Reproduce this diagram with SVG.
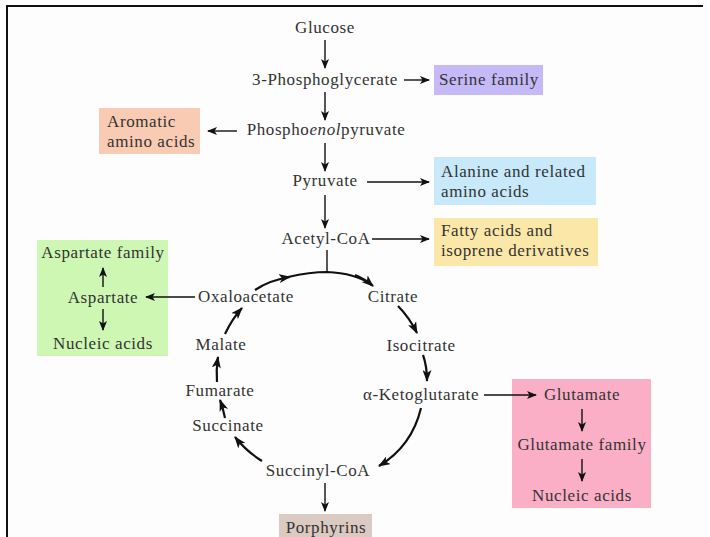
<svg xmlns="http://www.w3.org/2000/svg" width="710" height="537" viewBox="0 0 710 537">
  <defs>
    <marker id="ah" viewBox="0 0 10 8" refX="9" refY="4" markerWidth="10" markerHeight="8" markerUnits="userSpaceOnUse" orient="auto">
      <path d="M0,0 L10,4 L0,8 L2.5,4 Z" fill="#111"/>
    </marker>
    <marker id="ahc" viewBox="0 0 12 9" refX="11" refY="4.5" markerWidth="12" markerHeight="9" markerUnits="userSpaceOnUse" orient="auto">
      <path d="M0,0 L12,4.5 L0,9 L3,4.5 Z" fill="#111"/>
    </marker>
  </defs>
  <style>
    text { font-family: "Liberation Serif", "Times New Roman", serif; font-size: 17px; letter-spacing: 0.6px; fill: #333; }
    .c { text-anchor: middle; }
    .ln { stroke: #111; stroke-width: 1.4; fill: none; }
    .cy { stroke: #111; stroke-width: 2.2; fill: none; }
    .a { marker-end: url(#ah); }
    .ac { marker-end: url(#ahc); }
  </style>

  <!-- page -->
  <rect x="0" y="0" width="710" height="537" fill="#ffffff"/>
  <rect x="7" y="6" width="703" height="531" fill="#fdfdfd"/>
  <path d="M7,537 V6 H703" stroke="#111" stroke-width="2" fill="none"/>

  <!-- main pathway -->
  <g id="glucose"><text class="c" x="325" y="33">Glucose</text></g>
  <g id="phosphoglycerate"><text class="c" x="325" y="85">3-Phosphoglycerate</text></g>
  <g id="serine">
    <rect x="434" y="65" width="109" height="30" fill="#c6b9f7"/>
    <text class="c" x="489" y="85">Serine family</text>
  </g>
  <g id="pep"><text class="c" x="326" y="135">Phospho<tspan font-style="italic">enol</tspan>pyruvate</text></g>
  <g id="aromatic">
    <rect x="99" y="108" width="101" height="46" fill="#f9cbb3"/>
    <text x="107" y="127">Aromatic</text>
    <text x="107" y="147">amino acids</text>
  </g>
  <g id="pyruvate"><text class="c" x="325" y="186">Pyruvate</text></g>
  <g id="alanine">
    <rect x="434" y="157" width="162" height="48" fill="#c7e9f9"/>
    <text x="441" y="177">Alanine and related</text>
    <text x="441" y="197">amino acids</text>
  </g>
  <g id="acetylcoa"><text class="c" x="326" y="244">Acetyl-CoA</text></g>
  <g id="fatty">
    <rect x="434" y="218" width="164" height="48" fill="#fbe8a8"/>
    <text x="441" y="236">Fatty acids and</text>
    <text x="441" y="256">isoprene derivatives</text>
  </g>

  <!-- citric acid cycle -->
  <g id="oxaloacetate"><text class="c" x="246" y="302">Oxaloacetate</text></g>
  <g id="citrate"><text class="c" x="393" y="302">Citrate</text></g>
  <g id="isocitrate"><text class="c" x="421" y="351">Isocitrate</text></g>
  <g id="ketoglutarate"><text class="c" x="421" y="400">α-Ketoglutarate</text></g>
  <g id="succinylcoa"><text class="c" x="318" y="476">Succinyl-CoA</text></g>
  <g id="succinate"><text class="c" x="228" y="431">Succinate</text></g>
  <g id="fumarate"><text class="c" x="220" y="396">Fumarate</text></g>
  <g id="malate"><text class="c" x="221" y="350">Malate</text></g>

  <g id="aspartate">
    <rect x="37" y="240" width="131" height="116" fill="#cdf7b3"/>
    <text class="c" x="103" y="258">Aspartate family</text>
    <text class="c" x="103" y="303">Aspartate</text>
    <text class="c" x="103" y="349">Nucleic acids</text>
  </g>
  <g id="glutamate">
    <rect x="512" y="379" width="139" height="129" fill="#fbafc7"/>
    <text class="c" x="582" y="400">Glutamate</text>
    <text class="c" x="582" y="450">Glutamate family</text>
    <text class="c" x="582" y="501">Nucleic acids</text>
  </g>
  <g id="porphyrins">
    <rect x="279" y="514" width="93" height="24" fill="#dbcac1"/>
    <text class="c" x="326" y="533">Porphyrins</text>
  </g>

  <g id="connectors">
    <!-- glycolysis trunk -->
    <line class="ln a" x1="325" y1="40" x2="325" y2="68"/>
    <line class="ln a" x1="325" y1="92" x2="325" y2="120"/>
    <line class="ln a" x1="325" y1="143" x2="325" y2="171"/>
    <line class="ln a" x1="325" y1="195" x2="325" y2="228"/>
    <line class="ln" x1="327" y1="250" x2="327" y2="273"/>
    <!-- side branches -->
    <line class="ln a" x1="404" y1="80" x2="429" y2="80"/>
    <line class="ln a" x1="237" y1="131" x2="208" y2="131"/>
    <line class="ln a" x1="367" y1="182" x2="429" y2="182"/>
    <line class="ln a" x1="372" y1="239" x2="429" y2="239"/>
    <line class="ln a" x1="195" y1="297" x2="146" y2="297"/>
    <line class="ln a" x1="103" y1="287" x2="103" y2="268"/>
    <line class="ln a" x1="103" y1="309" x2="103" y2="330"/>
    <line class="ln a" x1="484" y1="395" x2="536" y2="395"/>
    <line class="ln a" x1="582" y1="409" x2="582" y2="431"/>
    <line class="ln a" x1="582" y1="459" x2="582" y2="481"/>
    <line class="ln a" x1="325" y1="483" x2="325" y2="511"/>
    <!-- cycle arcs -->
    <path class="cy ac" d="M255,290 Q270,280 290,277"/>
    <path class="cy" d="M288,277 Q310,272 327,272 Q355,273 372,285"/>
    <path class="cy ac" d="M355,275 Q365,279 373,286"/>
    <path class="cy ac" d="M398,306 Q409,317 417,333"/>
    <path class="cy ac" d="M423,355 Q427,366 427,381"/>
    <path class="cy ac" d="M421,408 Q412,446 379,466"/>
    <path class="cy ac" d="M262,461 Q246,451 235,437"/>
    <path class="cy ac" d="M225,418 Q223,408 220,400"/>
    <path class="cy ac" d="M217,382 Q216,370 218,357"/>
    <path class="cy ac" d="M225,334 Q232,319 242,308"/>
  </g>
</svg>
